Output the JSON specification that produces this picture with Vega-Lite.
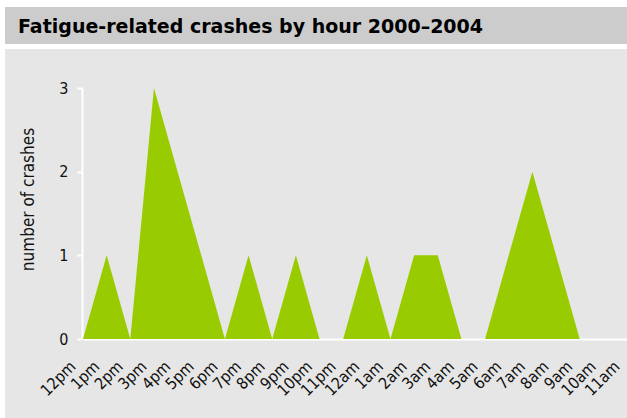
{
  "$schema": "https://vega.github.io/schema/vega-lite/v6.json",
  "padding": {"left": 5, "top": 7, "right": 0, "bottom": 0},
  "background": "white",
  "spacing": 5,
  "config": {"font": "DejaVu Sans Condensed, DejaVu Sans", "view": {"stroke": null}},
  "datasets": {
    "crashes": [
      {"hour": "12pm", "crashes": 0}, {"hour": "1pm", "crashes": 1}, {"hour": "2pm", "crashes": 0},
      {"hour": "3pm", "crashes": 3}, {"hour": "4pm", "crashes": 2}, {"hour": "5pm", "crashes": 1},
      {"hour": "6pm", "crashes": 0}, {"hour": "7pm", "crashes": 1}, {"hour": "8pm", "crashes": 0},
      {"hour": "9pm", "crashes": 1}, {"hour": "10pm", "crashes": 0}, {"hour": "11pm", "crashes": 0},
      {"hour": "12am", "crashes": 1}, {"hour": "1am", "crashes": 0}, {"hour": "2am", "crashes": 1},
      {"hour": "3am", "crashes": 1}, {"hour": "4am", "crashes": 0}, {"hour": "5am", "crashes": 0},
      {"hour": "6am", "crashes": 1}, {"hour": "7am", "crashes": 2}, {"hour": "8am", "crashes": 1},
      {"hour": "9am", "crashes": 0}, {"hour": "10am", "crashes": 0}, {"hour": "11am", "crashes": 0}
    ]
  },
  "vconcat": [
    {
      "width": 622,
      "height": 37,
      "view": {"fill": "#cccccc", "stroke": null},
      "data": {"values": [{"title": "Fatigue-related crashes by hour 2000–2004"}]},
      "mark": {"type": "text", "align": "left", "baseline": "middle", "fontSize": 19, "fontWeight": "bold", "font": "DejaVu Sans", "color": "#000000", "dx": 13, "dy": 1},
      "encoding": {
        "x": {"datum": 0, "type": "quantitative", "scale": {"domain": [0, 1]}, "axis": null},
        "text": {"field": "title"}
      }
    },
    {
      "width": 622,
      "height": 369,
      "view": {"fill": "#e6e6e6", "stroke": null},
      "data": {"name": "crashes"},
      "mark": {"type": "area", "color": "#99cc00", "opacity": 1},
      "encoding": {
        "x": {
          "field": "hour", "type": "ordinal", "sort": null,
          "scale": {"type": "point", "range": [78, 622], "padding": 0},
          "axis": {
            "title": null, "offset": -79, "ticks": false, "domainColor": "white", "domainWidth": 2,
            "labelAngle": -45, "labelFontSize": 16, "labelColor": "#111111", "labelPadding": 19, "labelOffset": -16, "grid": false
          }
        },
        "y": {
          "field": "crashes", "type": "quantitative",
          "scale": {"domain": [0, 3], "range": [290, 39], "nice": false},
          "axis": {
            "title": "number of crashes", "titleFontSize": 17, "titleFontWeight": "normal", "titleColor": "#111111",
            "titlePadding": 21, "titleY": 150, "offset": -77, "values": [0, 1, 2, 3], "tickSize": 5, "tickColor": "white", "tickWidth": 2,
            "domainColor": "white", "domainWidth": 2, "labelFontSize": 16, "labelColor": "#111111", "labelPadding": 9, "grid": false
          }
        }
      }
    }
  ]
}
